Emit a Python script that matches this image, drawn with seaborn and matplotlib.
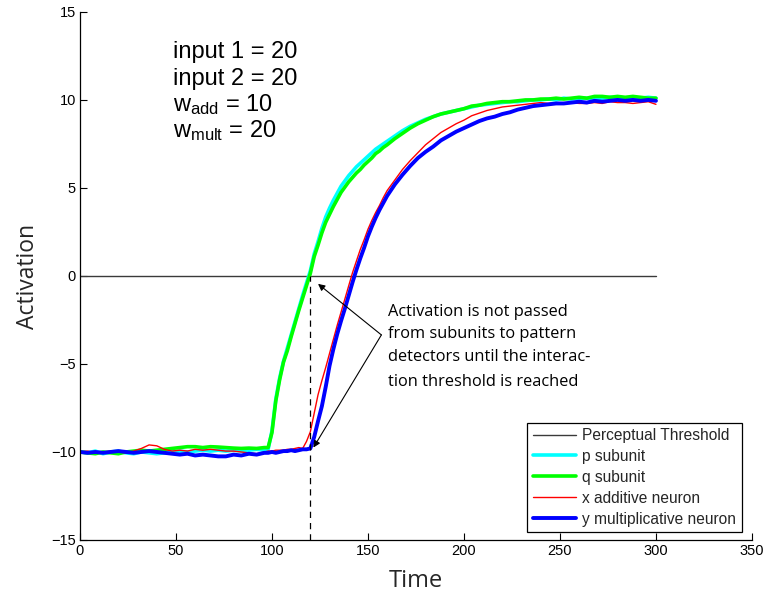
import numpy as np
import pandas as pd
import matplotlib
matplotlib.use("Agg")
import matplotlib.pyplot as plt
import seaborn as sns

# ---------------- data ----------------
time_a = list(range(0, 97, 4))
time_b = list(range(98, 161, 2))
time_c = list(range(164, 301, 4))
time = time_a + time_b + time_c

p_subunit = [
    -10.0, -10.05, -9.95, -10.1, -10.0, -9.95, -10.05, -10.1, -10.0, -10.05, -10.1, -10.05, -10.0,
    -9.95, -10.0, -9.95, -9.9, -9.95, -9.9, -9.95, -9.9, -9.95, -9.9, -9.85, -9.9,
    -9.85, -8.8, -7.0, -5.8, -4.85, -4.1, -3.35, -2.6, -1.85, -1.1, -0.4, 0.3, 1.25, 1.95, 2.7, 3.35,
    3.85, 4.3, 4.7, 5.1, 5.4, 5.7, 5.95, 6.2, 6.4, 6.6, 6.8, 7.0, 7.2, 7.35, 7.5, 7.65,
    7.95, 8.25, 8.5, 8.7, 8.9, 9.05, 9.2, 9.3, 9.4, 9.5, 9.6, 9.7, 9.75, 9.8, 9.85, 9.9, 9.9, 9.95,
    10.0, 10.0, 10.05, 10.0, 10.1, 10.05, 10.1, 10.1, 10.05, 10.1, 10.15, 10.1, 10.1, 10.15, 10.1,
    10.15, 10.1,
]
q_subunit = [
    -10.0, -10.05, -10.1, -10.0, -10.05, -10.1, -10.0, -9.95, -9.9, -9.95, -9.9, -9.85, -9.8,
    -9.75, -9.7, -9.7, -9.75, -9.7, -9.72, -9.75, -9.78, -9.8, -9.78, -9.8, -9.75,
    -9.75, -8.9, -7.1, -5.9, -4.9, -4.25, -3.45, -2.7, -1.95, -1.25, -0.55, 0.15, 1.1, 1.75, 2.45, 3.05,
    3.5, 3.95, 4.35, 4.75, 5.05, 5.35, 5.6, 5.85, 6.05, 6.3, 6.5, 6.7, 6.95, 7.1, 7.3, 7.45,
    7.8, 8.1, 8.4, 8.65, 8.85, 9.05, 9.2, 9.3, 9.4, 9.5, 9.65, 9.7, 9.8, 9.85, 9.9, 9.9, 9.95, 10.0,
    10.0, 10.05, 10.05, 10.1, 10.05, 10.1, 10.15, 10.1, 10.2, 10.2, 10.15, 10.2, 10.15, 10.2, 10.15,
    10.1, 10.1,
]
x_additive = [
    -10.0, -9.95, -10.05, -10.0, -9.95, -10.0, -10.05, -9.95, -9.8, -9.6, -9.65, -9.85, -9.95,
    -9.9, -9.95, -9.85, -9.9, -9.85, -9.9, -9.95, -9.95, -10.0, -10.05, -10.1, -10.0,
    -9.95, -9.95, -9.9, -9.9, -9.9, -9.85, -9.85, -9.8, -9.75, -9.8, -9.4, -8.85, -7.8, -6.75, -5.95,
    -5.2, -4.4, -3.6, -2.8, -2.05, -1.3, -0.55, 0.2, 0.85, 1.5, 2.05, 2.65, 3.15, 3.6, 4.0, 4.45, 4.85,
    5.45, 6.05, 6.55, 7.0, 7.45, 7.8, 8.15, 8.4, 8.65, 8.85, 9.1, 9.25, 9.4, 9.5, 9.6, 9.65, 9.7, 9.75,
    9.8, 9.85, 9.8, 9.85, 9.8, 9.85, 9.8, 9.8, 9.85, 9.8, 9.9, 9.85, 9.85, 9.8, 9.85, 9.9, 9.75,
]
y_multiplicative = [
    -10.0, -10.05, -10.0, -10.05, -10.0, -9.95, -10.0, -10.05, -10.0, -9.95, -10.0, -10.05, -10.1,
    -10.15, -10.1, -10.2, -10.15, -10.2, -10.25, -10.25, -10.15, -10.2, -10.1, -10.15, -10.05,
    -10.05, -10.0, -10.05, -10.0, -9.95, -9.95, -9.9, -9.95, -9.9, -9.85, -9.85, -9.8, -9.15, -8.25,
    -7.4, -6.3, -5.1, -4.15, -3.3, -2.55, -1.85, -1.1, -0.35, 0.35, 1.0, 1.6, 2.25, 2.8, 3.3, 3.75,
    4.15, 4.55,
    5.2, 5.75, 6.25, 6.7, 7.05, 7.35, 7.7, 7.95, 8.2, 8.4, 8.6, 8.8, 8.95, 9.05, 9.2, 9.3, 9.45, 9.55,
    9.65, 9.7, 9.75, 9.8, 9.8, 9.85, 9.9, 9.85, 9.95, 9.9, 9.95, 10.0, 9.95, 10.0, 9.95, 10.0, 9.95,
]
threshold_time = [0, 300]
threshold_value = [0, 0]
crossing_time = 120

param_lines = ["input 1 = 20", "input 2 = 20",
               r"w$_{\mathrm{add}}$ = 10", r"w$_{\mathrm{mult}}$ = 20"]
note_lines = ["Activation is not passed", "from subunits to pattern",
              "detectors until the interac-", "tion threshold is reached"]

# ---------------- style ----------------
sns.set_theme(style="white")
plt.rcParams["font.family"] = ["Liberation Sans", "DejaVu Sans"]
plt.rcParams["mathtext.fontset"] = "custom"
plt.rcParams["mathtext.rm"] = "Liberation Sans"
plt.rcParams["mathtext.it"] = "Liberation Sans:italic"
plt.rcParams["axes.unicode_minus"] = True

fig = plt.figure(figsize=(7.63, 5.96), dpi=100)
ax = fig.add_axes([0.1048, 0.094, 0.8807, 0.886])

sns.lineplot(x=threshold_time, y=threshold_value, ax=ax, color="#3a3a3a", lw=1.0,
             label="Perceptual Threshold")
sns.lineplot(x=time, y=p_subunit, ax=ax, color="#00ffff", lw=2.6, label="p subunit")
sns.lineplot(x=time, y=q_subunit, ax=ax, color="#00ff00", lw=2.6, label="q subunit")
sns.lineplot(x=time, y=x_additive, ax=ax, color="#ff0000", lw=1.0, label="x additive neuron")
sns.lineplot(x=time, y=y_multiplicative, ax=ax, color="#0000ff", lw=2.8,
             label="y multiplicative neuron")

ax.plot([crossing_time, crossing_time], [-15, 0], color="black", lw=0.9, ls=(0, (5, 4)))

ax.set_xlim(0, 350)
ax.set_ylim(-15, 15)
ax.set_xticks(np.arange(0, 351, 50))
ax.set_yticks(np.arange(-15, 16, 5))
ax.tick_params(direction="in", length=5, width=0.8, labelsize=10.5, colors="black",
               bottom=True, left=True, pad=3)
for side in ["top", "right"]:
    ax.spines[side].set_visible(False)
for side in ["left", "bottom"]:
    ax.spines[side].set_color("black")
    ax.spines[side].set_linewidth(0.9)

ax.set_xlabel("Time", fontsize=17, family=["Open Sans", "DejaVu Sans"], labelpad=8)
ax.set_ylabel("Activation", fontsize=16.5, family=["Open Sans", "DejaVu Sans"], labelpad=8)

# parameter text
for s, yv in zip(param_lines, [12.7, 11.2, 9.75, 8.25]):
    ax.text(48.5, yv, s, fontsize=17, va="center", ha="left", color="black")

# annotation
for s, yv in zip(note_lines, [-2.03, -3.31, -4.62, -6.0]):
    ax.text(160.5, yv, s, fontsize=11.8, va="center", ha="left",
            family=["Open Sans", "DejaVu Sans"], color="black")
arrow_kw = dict(arrowstyle="-|>", lw=0.8, color="black", mutation_scale=10, shrinkA=0, shrinkB=0)
ax.annotate("", xy=(124.0, -0.45), xytext=(157.0, -3.35), arrowprops=arrow_kw)
ax.annotate("", xy=(121.6, -9.75), xytext=(157.0, -3.35), arrowprops=arrow_kw)

leg = ax.legend(loc="lower right", bbox_to_anchor=(0.985, 0.015), fontsize=11.2,
                frameon=True, fancybox=False, edgecolor="black", handlelength=2.8,
                borderpad=0.35, labelspacing=0.38, handletextpad=0.4, borderaxespad=0)
leg.get_frame().set_linewidth(0.9)
leg.get_frame().set_facecolor("white")
leg.get_frame().set_alpha(1)

fig.savefig("out.png", dpi=100)
